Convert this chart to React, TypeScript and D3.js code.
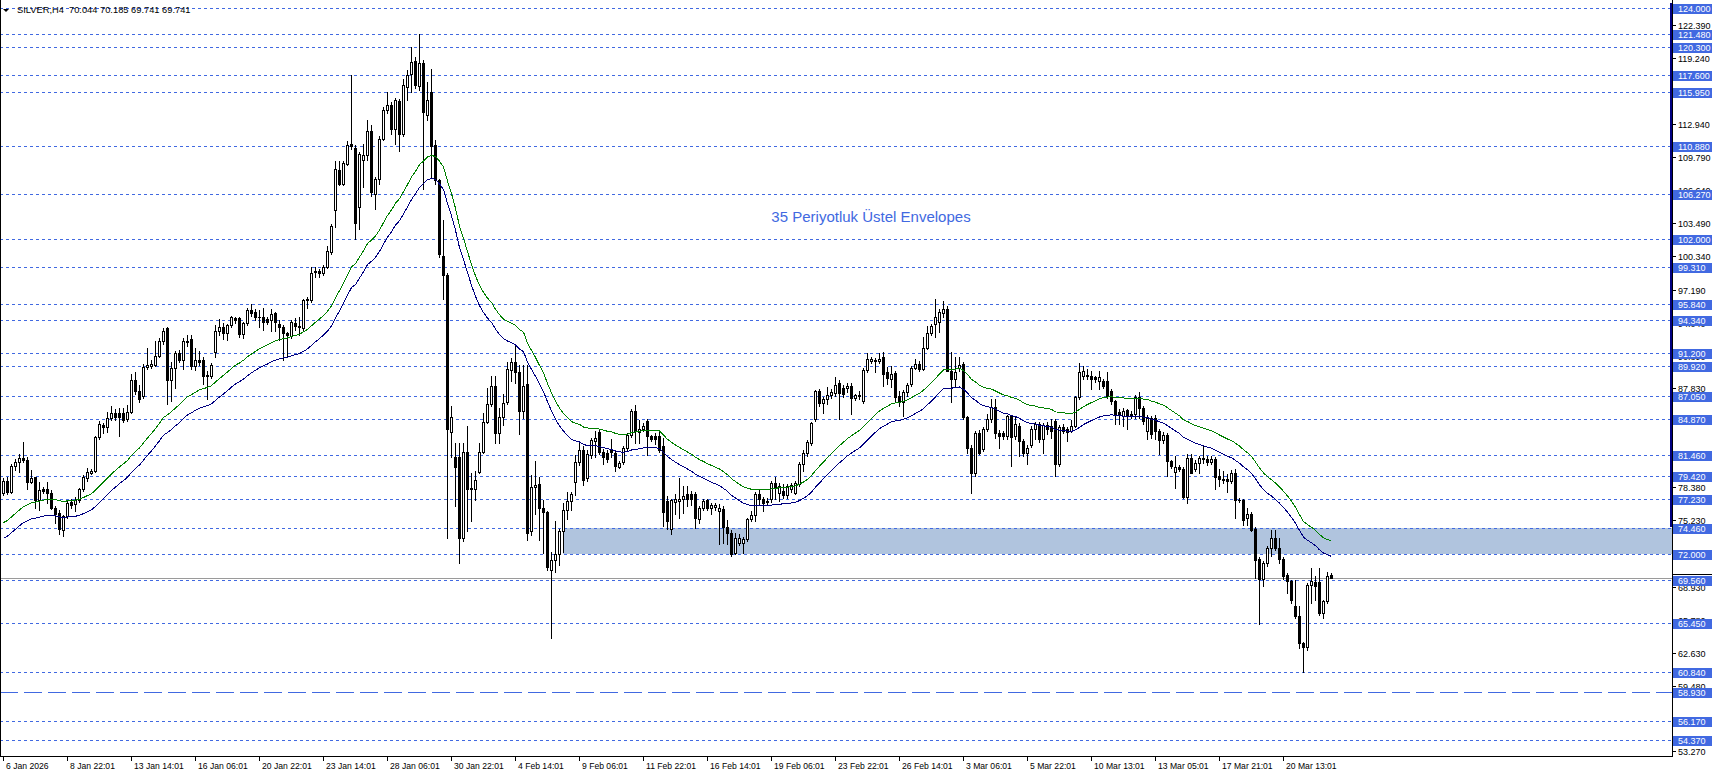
import React from 'react';
import * as d3 from 'd3';

const W = 1712;
const H = 776;
const PLOT_RIGHT = 1672;
const PLOT_BOTTOM = 756;

const symbolHeader = 'SILVER,H4  70.044 70.185 69.741 69.741';
const envelopeLabel = '35 Periyotluk Üstel Envelopes';

const opens = [
  77.80, 79.00, 77.90, 80.40, 80.82, 81.20, 80.98, 78.88, 79.36, 77.16,
  78.18, 78.18, 77.85, 76.43, 75.89, 74.30, 75.64, 76.97, 76.75, 77.16,
  78.18, 79.30, 79.77, 79.95, 83.18, 84.30, 84.16, 84.96, 85.44, 85.44,
  85.44, 84.86, 85.56, 88.62, 87.57, 87.03, 89.80, 89.95, 90.02, 90.91,
  92.34, 93.50, 88.62, 89.70, 91.16, 90.53, 92.34, 92.50, 89.95, 90.46,
  90.46, 89.10, 88.94, 91.29, 93.29, 93.61, 93.02, 93.81, 94.51, 94.51,
  92.95, 93.97, 95.24, 95.08, 94.60, 94.60, 94.35, 94.29, 94.92, 93.90,
  93.65, 93.08, 92.76, 94.03, 93.71, 93.49, 96.19, 96.19, 98.82, 98.94,
  98.72, 99.35, 100.78, 104.74, 108.55, 107.22, 109.18, 111.02, 110.70, 105.00,
  109.56, 110.04, 112.26, 106.33, 107.69, 111.56, 114.25, 114.73, 112.51, 115.14,
  111.97, 116.47, 117.74, 118.94, 116.54, 118.75, 113.78, 116.00, 110.93, 107.60,
  100.40, 98.56, 83.67, 81.25, 81.25, 73.52, 81.75, 78.30, 78.23, 79.84,
  81.75, 84.61, 86.30, 87.98, 83.54, 85.02, 86.47, 89.50, 90.33, 89.32,
  85.62, 88.25, 74.19, 78.39, 78.73, 76.38, 76.04, 70.50, 71.43, 72.00,
  74.19, 76.21, 77.05, 78.90, 80.75, 81.92, 79.23, 81.42, 82.77, 83.60,
  81.76, 81.66, 81.99, 81.66, 80.31, 80.75, 82.09, 83.40, 85.62, 83.67,
  83.88, 84.68, 83.27, 83.27, 83.27, 82.31, 77.08, 74.38, 76.98, 77.08,
  77.30, 77.78, 77.71, 77.71, 75.39, 76.44, 77.14, 76.44, 76.50, 76.10,
  76.35, 74.63, 74.06, 72.16, 73.11, 73.11, 73.43, 75.39, 75.71, 77.71,
  77.30, 76.98, 77.24, 78.82, 77.87, 78.03, 77.62, 78.20, 77.87, 78.66,
  80.63, 81.62, 82.63, 84.85, 87.52, 86.38, 86.82, 87.14, 87.39, 88.34,
  87.87, 87.87, 88.03, 86.92, 87.14, 86.60, 89.52, 90.40, 90.50, 90.40,
  90.75, 89.32, 88.68, 89.25, 87.03, 86.52, 87.47, 88.20, 89.70, 90.11,
  89.64, 91.61, 93.07, 93.93, 94.09, 94.98, 95.36, 89.48, 88.68, 89.70,
  90.11, 85.02, 82.16, 79.71, 83.59, 81.99, 83.91, 84.86, 85.98, 83.59,
  83.53, 83.27, 85.12, 83.27, 84.23, 82.80, 81.62, 82.38, 83.97, 84.39,
  82.95, 84.29, 84.23, 84.70, 80.57, 84.16, 83.91, 83.75, 84.23, 86.93,
  89.00, 89.06, 88.93, 88.84, 88.52, 88.52, 88.50, 87.54, 86.59, 85.54,
  85.16, 85.70, 85.32, 85.32, 87.00, 85.95, 83.73, 84.99, 84.99, 83.73,
  82.87, 83.32, 80.87, 79.82, 80.33, 80.14, 77.47, 81.19, 80.14, 80.71,
  81.19, 81.03, 80.77, 81.09, 79.44, 79.18, 79.18, 78.96, 79.75, 77.21,
  77.21, 75.46, 75.88, 74.41, 71.55, 69.65, 71.17, 72.60, 73.56, 72.60,
  71.55, 70.06, 69.42, 67.04, 66.09, 63.54, 63.16, 69.11, 69.32, 69.32,
  66.41, 67.52, 70.044,
];

const highs = [
  79.30, 79.40, 80.60, 81.10, 81.50, 82.64, 81.30, 80.00, 79.40, 78.85,
  78.40, 78.88, 78.10, 76.60, 76.20, 75.70, 77.10, 77.30, 77.50, 78.30,
  79.50, 80.20, 80.10, 83.30, 84.70, 84.50, 85.50, 86.10, 85.80, 85.90,
  85.90, 86.20, 89.20, 89.30, 88.10, 90.10, 91.60, 90.50, 92.30, 92.60,
  93.50, 93.60, 90.30, 91.30, 91.40, 92.60, 92.90, 92.90, 91.60, 91.30,
  90.80, 89.40, 90.20, 93.80, 94.40, 94.00, 93.90, 94.70, 94.60, 94.60,
  94.10, 95.40, 95.81, 95.30, 95.24, 95.39, 94.60, 95.30, 95.10, 94.29,
  93.80, 93.20, 94.30, 94.44, 94.60, 96.30, 96.50, 99.35, 99.35, 99.10,
  99.50, 101.32, 103.40, 109.43, 109.43, 109.40, 111.34, 117.58, 110.90, 110.30,
  111.08, 113.30, 112.89, 107.90, 111.80, 114.57, 116.00, 115.05, 115.40, 115.30,
  117.26, 118.06, 120.28, 119.33, 121.54, 119.00, 116.95, 118.21, 111.40, 107.75,
  103.80, 98.80, 86.13, 82.60, 82.60, 82.60, 84.21, 79.74, 79.90, 82.60,
  85.45, 87.81, 88.92, 88.92, 85.96, 87.30, 90.33, 90.67, 92.01, 89.99,
  89.99, 89.99, 79.57, 80.92, 79.40, 77.20, 76.10, 72.20, 75.20, 74.40,
  76.90, 77.90, 77.90, 81.42, 82.60, 82.30, 81.90, 83.10, 83.77, 83.80,
  82.00, 81.90, 82.93, 81.80, 80.90, 82.30, 83.50, 85.80, 86.20, 84.78,
  84.50, 84.90, 83.40, 83.50, 83.60, 83.10, 77.55, 77.30, 77.70, 79.30,
  78.50, 78.50, 78.00, 77.90, 76.60, 77.30, 77.30, 76.90, 76.90, 76.80,
  76.60, 75.30, 74.30, 74.06, 73.90, 73.60, 75.50, 76.10, 77.90, 78.20,
  77.50, 77.40, 79.00, 79.40, 78.80, 78.70, 78.70, 78.80, 79.00, 80.80,
  81.90, 82.90, 84.60, 87.60, 87.70, 87.00, 87.90, 87.70, 88.90, 88.60,
  88.10, 88.34, 88.30, 87.30, 87.55, 89.70, 91.20, 90.80, 90.70, 91.20,
  91.23, 89.80, 89.90, 89.40, 87.57, 87.60, 88.30, 89.90, 90.59, 90.40,
  92.66, 93.71, 93.90, 96.32, 95.30, 96.06, 95.60, 91.23, 90.75, 90.75,
  90.30, 85.20, 82.40, 83.70, 83.80, 84.10, 85.34, 86.77, 86.77, 83.80,
  83.70, 85.30, 85.30, 85.18, 84.50, 83.00, 82.40, 84.20, 84.55, 84.55,
  84.50, 84.60, 84.90, 84.90, 84.30, 84.40, 84.10, 84.80, 87.10, 90.20,
  89.90, 89.64, 89.48, 89.00, 89.48, 88.70, 89.30, 87.70, 86.70, 85.87,
  85.96, 85.80, 85.64, 87.20, 87.45, 86.10, 85.30, 85.16, 85.30, 83.90,
  83.60, 83.50, 81.00, 81.35, 80.50, 80.30, 81.50, 81.50, 81.00, 81.35,
  82.36, 81.35, 81.35, 81.30, 80.07, 79.90, 79.60, 80.03, 80.07, 77.40,
  77.30, 76.42, 76.00, 74.60, 71.70, 71.40, 72.76, 74.35, 74.35, 73.56,
  71.70, 70.20, 69.60, 69.58, 67.04, 63.70, 69.30, 70.70, 69.90, 70.70,
  67.70, 70.28, 70.185,
];

const lows = [
  77.60, 77.70, 77.80, 80.00, 79.80, 80.80, 78.20, 78.80, 76.43, 76.20,
  77.80, 76.91, 76.30, 75.00, 73.89, 73.73, 75.50, 76.40, 76.10, 77.00,
  78.00, 79.00, 79.60, 79.80, 83.00, 83.50, 83.60, 84.80, 84.80, 83.27,
  84.60, 84.70, 85.40, 87.30, 86.50, 86.90, 89.60, 89.70, 89.90, 90.80,
  92.00, 86.30, 86.60, 87.80, 90.30, 89.60, 91.80, 89.60, 89.50, 90.00,
  88.20, 86.80, 88.80, 90.80, 92.90, 92.50, 92.40, 93.60, 94.00, 92.63,
  92.54, 93.80, 94.70, 94.30, 93.65, 93.33, 93.90, 93.27, 93.27, 92.38,
  90.48, 90.80, 92.60, 93.33, 92.86, 93.30, 95.39, 96.00, 98.34, 98.34,
  98.60, 99.20, 100.60, 103.16, 107.12, 107.10, 109.00, 110.60, 101.99, 103.00,
  106.96, 109.50, 106.11, 104.90, 107.28, 111.40, 114.00, 112.03, 111.08, 110.39,
  111.80, 115.27, 116.00, 116.40, 116.15, 106.80, 113.30, 107.91, 107.28, 100.30,
  96.30, 73.52, 81.25, 76.61, 71.17, 73.30, 74.19, 75.20, 77.20, 79.70,
  81.60, 84.45, 86.10, 82.60, 82.60, 84.30, 86.30, 88.50, 88.31, 83.44,
  84.95, 73.35, 73.86, 75.87, 73.35, 72.17, 70.49, 64.00, 70.30, 71.00,
  72.20, 75.40, 76.20, 77.60, 80.50, 78.63, 79.00, 81.20, 81.25, 81.50,
  80.58, 80.80, 81.25, 79.91, 80.20, 80.60, 81.90, 83.20, 82.60, 82.60,
  83.70, 81.42, 82.80, 82.50, 81.70, 74.70, 74.38, 73.90, 75.80, 75.50,
  75.97, 76.60, 76.70, 74.54, 75.00, 76.20, 76.20, 75.80, 76.20, 72.95,
  73.11, 72.95, 71.80, 72.00, 72.90, 72.16, 73.30, 75.17, 75.20, 76.76,
  76.10, 76.70, 77.00, 77.24, 77.08, 77.40, 77.40, 77.90, 77.70, 78.50,
  79.90, 81.40, 82.40, 84.70, 86.10, 85.40, 86.30, 86.90, 87.10, 84.85,
  87.00, 87.40, 85.33, 86.70, 86.75, 86.40, 89.30, 90.20, 89.30, 90.20,
  88.05, 88.20, 87.90, 86.61, 86.14, 85.18, 87.09, 88.00, 89.60, 89.40,
  89.50, 91.50, 92.90, 92.66, 93.20, 94.60, 89.40, 86.45, 88.05, 89.40,
  84.86, 81.68, 77.86, 79.45, 81.50, 81.80, 83.70, 84.60, 83.11, 82.16,
  83.00, 83.00, 80.41, 83.00, 81.36, 81.36, 80.57, 82.20, 82.95, 82.64,
  81.68, 83.43, 83.11, 79.45, 80.40, 83.50, 82.80, 83.60, 84.10, 86.80,
  88.70, 88.68, 87.73, 88.40, 87.73, 87.80, 86.90, 86.30, 84.36, 84.36,
  84.20, 83.89, 85.00, 85.00, 84.99, 84.36, 82.93, 83.10, 82.93, 81.50,
  82.60, 79.44, 80.20, 78.30, 79.90, 77.37, 76.90, 79.70, 79.90, 79.75,
  80.71, 80.50, 80.60, 78.17, 78.50, 78.80, 77.91, 78.80, 75.46, 77.00,
  74.83, 74.83, 74.19, 69.74, 65.36, 68.95, 70.85, 71.80, 72.44, 71.17,
  69.65, 68.31, 67.36, 65.90, 63.07, 60.84, 62.90, 67.36, 67.68, 66.24,
  65.93, 67.36, 69.741,
];

const closes = [
  78.95, 77.90, 80.40, 80.82, 81.20, 80.98, 78.88, 79.30, 77.16, 78.09,
  78.02, 77.80, 76.43, 75.80, 74.37, 75.64, 76.91, 76.66, 77.20, 78.18,
  79.36, 79.84, 79.93, 83.18, 84.39, 84.10, 84.96, 85.44, 85.02, 85.02,
  84.80, 85.56, 88.62, 87.57, 86.77, 89.80, 90.02, 90.11, 90.91, 92.34,
  93.26, 88.62, 89.70, 91.16, 90.53, 92.34, 92.18, 89.95, 90.46, 90.34,
  89.00, 88.94, 90.02, 93.29, 93.61, 93.02, 93.81, 94.54, 94.29, 92.95,
  93.97, 95.24, 94.92, 94.60, 94.54, 94.13, 94.13, 94.85, 94.13, 93.65,
  93.02, 92.86, 94.13, 93.71, 93.65, 96.19, 96.25, 98.72, 98.94, 98.72,
  99.35, 100.88, 103.25, 108.64, 107.28, 109.24, 110.93, 110.83, 103.48, 110.07,
  110.04, 112.26, 106.43, 107.69, 111.56, 114.25, 114.73, 112.51, 115.20, 111.97,
  116.63, 117.64, 118.85, 116.63, 118.75, 114.09, 115.27, 110.83, 107.60, 100.62,
  98.56, 83.94, 85.02, 80.31, 73.59, 81.75, 78.23, 78.25, 79.07, 81.75,
  84.61, 86.30, 87.98, 83.54, 85.02, 86.35, 89.66, 90.33, 89.32, 85.62,
  88.04, 74.02, 78.39, 78.63, 76.38, 76.04, 70.83, 71.50, 72.00, 74.19,
  76.21, 77.05, 77.72, 80.75, 81.92, 79.07, 81.59, 82.83, 83.10, 81.76,
  81.25, 81.08, 81.76, 80.41, 80.65, 82.09, 83.34, 85.62, 83.77, 83.94,
  84.21, 83.27, 83.00, 82.93, 81.92, 76.03, 75.17, 77.14, 77.30, 77.30,
  77.55, 77.24, 77.24, 75.49, 76.44, 77.08, 76.44, 76.69, 76.66, 76.44,
  74.63, 74.06, 72.00, 73.59, 73.59, 73.43, 75.39, 75.71, 77.71, 77.24,
  76.92, 77.10, 78.82, 78.35, 78.50, 77.62, 78.50, 78.57, 78.82, 80.63,
  81.68, 82.69, 84.47, 87.52, 86.38, 86.82, 87.20, 87.45, 88.09, 87.33,
  87.30, 88.03, 86.92, 87.14, 87.08, 89.52, 90.56, 90.56, 90.44, 90.63,
  89.16, 88.75, 89.16, 86.93, 86.52, 87.41, 88.11, 89.70, 90.11, 89.64,
  91.61, 93.07, 93.77, 94.57, 95.04, 95.36, 89.48, 88.68, 89.32, 90.00,
  85.02, 82.16, 79.77, 83.53, 81.68, 83.91, 84.86, 85.98, 83.59, 83.27,
  83.27, 85.12, 83.12, 84.39, 82.80, 81.68, 82.16, 83.97, 84.39, 82.95,
  84.29, 83.97, 83.75, 80.57, 84.16, 83.75, 83.65, 84.23, 86.93, 89.38,
  89.48, 88.93, 88.68, 88.68, 88.84, 88.05, 87.07, 86.59, 85.32, 85.22,
  85.64, 85.22, 85.26, 87.00, 85.95, 84.68, 84.99, 83.41, 83.73, 82.87,
  83.32, 80.87, 80.39, 80.33, 80.14, 77.47, 81.19, 79.75, 80.65, 81.19,
  81.03, 80.77, 81.09, 79.34, 79.18, 79.06, 78.96, 79.75, 77.21, 77.15,
  75.24, 75.88, 74.35, 71.43, 69.65, 71.17, 72.60, 73.56, 72.60, 71.55,
  69.96, 69.42, 67.68, 66.09, 63.54, 63.16, 69.11, 69.42, 68.95, 66.41,
  67.52, 69.96, 69.741,
];

// horizontal level lines (dotted blue, with blue price tags)
const levelPrices = [
  124.0, 121.48, 120.3, 117.6, 115.95, 110.88, 106.27, 102.0, 99.31, 95.84,
  94.34, 91.2, 89.92, 87.05, 84.87, 81.46, 79.42, 77.23, 74.46, 72.0,
  69.56, 65.45, 60.84, 56.17, 54.37,
];
const longDashLevel = 58.93;
const bidPrice = 69.741;
const zoneLow = 72.0;
const zoneHigh = 74.46;
const zoneStartBar = 140;

// price-scale labels of the chart axis (some partly hidden behind the tags)
const axisTickPrices = [
  122.39, 119.24, 112.94, 109.79, 106.64, 103.49, 100.34, 97.19, 94.04,
  90.89, 87.83, 84.68, 78.38, 75.23, 68.93, 65.78, 62.63, 59.48, 53.27,
];

const timeLabels = [
  '6 Jan 2026', '8 Jan 22:01', '13 Jan 14:01', '16 Jan 06:01', '20 Jan 22:01',
  '23 Jan 14:01', '28 Jan 06:01', '30 Jan 22:01', '4 Feb 14:01', '9 Feb 06:01',
  '11 Feb 22:01', '16 Feb 14:01', '19 Feb 06:01', '23 Feb 22:01', '26 Feb 14:01',
  '3 Mar 06:01', '5 Mar 22:01', '10 Mar 13:01', '13 Mar 05:01', '17 Mar 21:01',
  '20 Mar 13:01',
];
const barsPerTimeLabel = 16;

const emaPeriod = 35;
const envelopeDeviationPct = 1.0;
const emaSeed = 74.0;

const FONT = "'Liberation Sans', Arial, sans-serif";
const LEVEL_BLUE = '#4169E1';

export default function App() {
  const n = Math.min(opens.length, highs.length, lows.length, closes.length);
  const x = d3.scaleLinear().domain([0, n - 1]).range([3.5, 3.5 + 4 * (n - 1)]);
  const y = d3.scaleLinear().domain([52.81, 124.742]).range([PLOT_BOTTOM, 0]);
  const py = (p: number) => Math.round(y(p));

  // exponential moving average and envelopes
  const alpha = 2 / (emaPeriod + 1);
  const ema: number[] = [];
  let e = emaSeed;
  for (let i = 0; i < n; i++) {
    e = e + alpha * (closes[i] - e);
    ema.push(e);
  }
  const upper = ema.map((v) => v * (1 + envelopeDeviationPct / 100));
  const lower = ema.map((v) => v * (1 - envelopeDeviationPct / 100));
  const line = d3
    .line<number>()
    .x((_, i) => x(i))
    .y((v) => y(v));

  const candles = [];
  for (let i = 0; i < n; i++) {
    const o = opens[i], h = highs[i], l = lows[i], c = closes[i];
    const cx = x(i);
    const yh = py(h), yl = py(l);
    const top = py(Math.max(o, c)), bot = py(Math.min(o, c));
    const bull = c >= o;
    candles.push(
      <g key={i}>
        <line x1={cx} x2={cx} y1={yh} y2={yl + 1} stroke="#000" strokeWidth={1} />
        {bot - top < 1 ? (
          <line x1={cx - 1.5} x2={cx + 1.5} y1={top + 0.5} y2={top + 0.5} stroke="#000" strokeWidth={1} />
        ) : (
          <rect x={cx - 1} y={top + 0.5} width={2} height={bot - top} fill={bull ? '#fff' : '#000'} stroke="#000" strokeWidth={1} />
        )}
      </g>
    );
  }

  const zoneX = Math.floor(x(zoneStartBar));

  return (
    <svg
      width={W}
      height={H}
      viewBox={`0 0 ${W} ${H}`}
      style={{ position: 'fixed', left: 0, top: 0, background: '#fff', display: 'block' }}
      fontFamily={FONT}
    >
      <rect x={0} y={0} width={W} height={H} fill="#fff" />
      <g shapeRendering="crispEdges">
        {/* zone rectangle */}
        <rect
          x={zoneX}
          y={y(zoneHigh)}
          width={PLOT_RIGHT - zoneX}
          height={y(zoneLow) - y(zoneHigh)}
          fill="#B0C4DE"
        />
        {/* level lines */}
        {levelPrices.map((p) => (
          <line
            key={'lv' + p}
            x1={0}
            x2={PLOT_RIGHT}
            y1={py(p) + 0.5}
            y2={py(p) + 0.5}
            stroke={LEVEL_BLUE}
            strokeWidth={1}
            strokeDasharray="3,3"
          />
        ))}
        <line
          x1={0}
          x2={PLOT_RIGHT}
          y1={py(longDashLevel) + 0.5}
          y2={py(longDashLevel) + 0.5}
          stroke={LEVEL_BLUE}
          strokeWidth={1}
          strokeDasharray="18,6"
        />
        {/* bid line */}
        <line x1={0} x2={PLOT_RIGHT} y1={py(bidPrice) + 0.5} y2={py(bidPrice) + 0.5} stroke="#9a9a9a" strokeWidth={1} />
        {/* candles */}
        {candles}
        {/* envelopes */}
        <path d={line(upper) || ''} fill="none" stroke="#008000" strokeWidth={1} />
        <path d={line(lower) || ''} fill="none" stroke="#000080" strokeWidth={1} />
      </g>

      {/* header */}
      <path d="M3,9 L9,9 L6,12 Z" fill="#000" />
      <text x={17} y={13} fontSize={9.3} fill="#000" style={{ whiteSpace: 'pre' }}>
        {symbolHeader}
      </text>

      {/* indicator caption */}
      <text x={871} y={222} fontSize={15} fill={LEVEL_BLUE} textAnchor="middle">
        {envelopeLabel}
      </text>

      {/* frame */}
      <g shapeRendering="crispEdges">
        <line x1={0.5} x2={0.5} y1={0} y2={PLOT_BOTTOM} stroke="#000" />
        <line x1={0} x2={PLOT_RIGHT + 1} y1={PLOT_BOTTOM + 0.5} y2={PLOT_BOTTOM + 0.5} stroke="#000" />
        <line x1={PLOT_RIGHT + 0.5} x2={PLOT_RIGHT + 0.5} y1={0} y2={PLOT_BOTTOM + 1} stroke="#000" />
        <rect x={PLOT_RIGHT - 2} y={3} width={2} height={524} fill="#000080" />
        <line x1={PLOT_RIGHT} x2={W} y1={574.5} y2={574.5} stroke="#000" />
      </g>

      {/* price axis ticks */}
      <g fontSize={9} fill="#000">
        {axisTickPrices.map((p) => (
          <g key={'tk' + p}>
            <line x1={PLOT_RIGHT} x2={PLOT_RIGHT + 4} y1={py(p) + 0.5} y2={py(p) + 0.5} stroke="#000" shapeRendering="crispEdges" />
            <text x={1678} y={py(p) + 3.5}>{p.toFixed(3)}</text>
          </g>
        ))}
      </g>

      {/* price tags of levels */}
      <g fontSize={9}>
        {[...levelPrices, longDashLevel].map((p) => (
          <g key={'tag' + p}>
            <rect x={PLOT_RIGHT + 1} y={py(p) - 4} width={W - PLOT_RIGHT - 1} height={10} fill={LEVEL_BLUE} shapeRendering="crispEdges" />
            <text x={1678} y={py(p) + 4} fill="#fff">{p.toFixed(3)}</text>
          </g>
        ))}
      </g>

      {/* time axis */}
      <g fontSize={8.6} fill="#000">
        {timeLabels.map((t, k) => {
          const tx = Math.floor(x(k * barsPerTimeLabel)) + 0.5;
          return (
            <g key={t}>
              <line x1={tx} x2={tx} y1={PLOT_BOTTOM} y2={PLOT_BOTTOM + 5} stroke="#000" shapeRendering="crispEdges" />
              <text x={tx + 2.5} y={769}>{t}</text>
            </g>
          );
        })}
      </g>
    </svg>
  );
}
